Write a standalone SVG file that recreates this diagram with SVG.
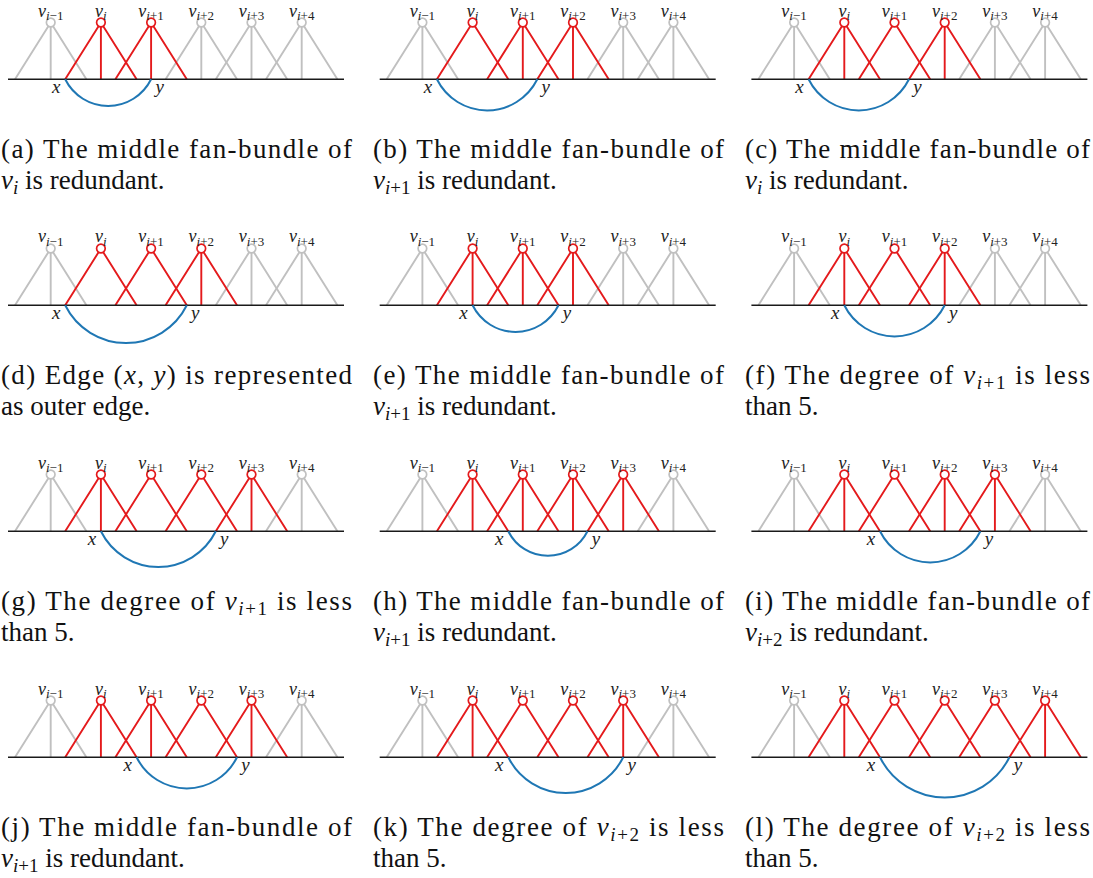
<svg xmlns="http://www.w3.org/2000/svg" width="1093" height="878" viewBox="0 0 1093 878">
<style>
.ln{fill:none;stroke-width:1.9}
.gy{stroke:#c0c0c0}
.rd{stroke:#e41a1c}
.base{stroke:#1a1a1a;stroke-width:1.4}
.arc{fill:none;stroke:#1f77b4;stroke-width:2}
.cg{fill:#fff;stroke:#c0c0c0;stroke-width:1.7}
.cr{fill:#fff;stroke:#e41a1c;stroke-width:1.7}
text{font-family:"Liberation Serif",serif}
.nl{font-size:18px;text-anchor:middle;fill:#222}
.i{font-style:italic}
.s{font-size:13px}
.xy{font-size:19px;font-style:italic;text-anchor:middle;fill:#222}
.cap{font-size:27px;fill:#111}
.cs{font-size:19px}
</style>
<defs>
<path id="f3" d="M-35.7 0L0-56.8L35.7 0M0-56.8V0"/>
<path id="f2" d="M-35.7 0L0-56.8L35.7 0"/>
</defs>

<!-- (a) -->
<g id="panel-a" transform="translate(0 79.3)">
<g id="a-connectors">
<use href="#f3" x="50.7" class="ln gy"/><use href="#f3" x="201.3" class="ln gy"/><use href="#f3" x="251.5" class="ln gy"/><use href="#f3" x="301.7" class="ln gy"/>
<use href="#f3" x="100.9" class="ln rd"/><use href="#f3" x="151.1" class="ln rd"/>
<line class="base" x1="8" y1="0" x2="344" y2="0"/>
<path class="arc" d="M65.2 0A47.95 47.95 0 0 0 151.1 0"/>
</g>
<g id="a-v0" transform="translate(50.7 -56.8)"><circle class="cg" r="4.3"/><text class="nl" y="-6"><tspan class="i">v</tspan><tspan class="s" dy="3.5"><tspan class="i">i</tspan>−1</tspan></text></g>
<g id="a-v1" transform="translate(100.9 -56.8)"><circle class="cr" r="4.3"/><text class="nl" y="-6"><tspan class="i">v</tspan><tspan class="s i" dy="3.5">i</tspan></text></g>
<g id="a-v2" transform="translate(151.1 -56.8)"><circle class="cr" r="4.3"/><text class="nl" y="-6"><tspan class="i">v</tspan><tspan class="s" dy="3.5"><tspan class="i">i</tspan>+1</tspan></text></g>
<g id="a-v3" transform="translate(201.3 -56.8)"><circle class="cg" r="4.3"/><text class="nl" y="-6"><tspan class="i">v</tspan><tspan class="s" dy="3.5"><tspan class="i">i</tspan>+2</tspan></text></g>
<g id="a-v4" transform="translate(251.5 -56.8)"><circle class="cg" r="4.3"/><text class="nl" y="-6"><tspan class="i">v</tspan><tspan class="s" dy="3.5"><tspan class="i">i</tspan>+3</tspan></text></g>
<g id="a-v5" transform="translate(301.7 -56.8)"><circle class="cg" r="4.3"/><text class="nl" y="-6"><tspan class="i">v</tspan><tspan class="s" dy="3.5"><tspan class="i">i</tspan>+4</tspan></text></g>
<text class="xy" x="56.2" y="13.5">x</text><text class="xy" x="159.6" y="13.5">y</text>
</g>

<!-- (b) -->
<g id="panel-b" transform="translate(371.7 79.3)">
<g id="b-connectors">
<use href="#f3" x="50.7" class="ln gy"/><use href="#f3" x="251.5" class="ln gy"/><use href="#f3" x="301.7" class="ln gy"/>
<use href="#f2" x="100.9" class="ln rd"/><use href="#f3" x="151.1" class="ln rd"/><use href="#f3" x="201.3" class="ln rd"/>
<line class="base" x1="8" y1="0" x2="344" y2="0"/>
<path class="arc" d="M65.2 0A56.04 56.04 0 0 0 165.6 0"/>
</g>
<g id="b-v0" transform="translate(50.7 -56.8)"><circle class="cg" r="4.3"/><text class="nl" y="-6"><tspan class="i">v</tspan><tspan class="s" dy="3.5"><tspan class="i">i</tspan>−1</tspan></text></g>
<g id="b-v1" transform="translate(100.9 -56.8)"><circle class="cr" r="4.3"/><text class="nl" y="-6"><tspan class="i">v</tspan><tspan class="s i" dy="3.5">i</tspan></text></g>
<g id="b-v2" transform="translate(151.1 -56.8)"><circle class="cr" r="4.3"/><text class="nl" y="-6"><tspan class="i">v</tspan><tspan class="s" dy="3.5"><tspan class="i">i</tspan>+1</tspan></text></g>
<g id="b-v3" transform="translate(201.3 -56.8)"><circle class="cr" r="4.3"/><text class="nl" y="-6"><tspan class="i">v</tspan><tspan class="s" dy="3.5"><tspan class="i">i</tspan>+2</tspan></text></g>
<g id="b-v4" transform="translate(251.5 -56.8)"><circle class="cg" r="4.3"/><text class="nl" y="-6"><tspan class="i">v</tspan><tspan class="s" dy="3.5"><tspan class="i">i</tspan>+3</tspan></text></g>
<g id="b-v5" transform="translate(301.7 -56.8)"><circle class="cg" r="4.3"/><text class="nl" y="-6"><tspan class="i">v</tspan><tspan class="s" dy="3.5"><tspan class="i">i</tspan>+4</tspan></text></g>
<text class="xy" x="56.2" y="13.5">x</text><text class="xy" x="174.1" y="13.5">y</text>
</g>

<!-- (c) -->
<g id="panel-c" transform="translate(743.4 79.3)">
<g id="c-connectors">
<use href="#f3" x="50.7" class="ln gy"/><use href="#f3" x="251.5" class="ln gy"/><use href="#f3" x="301.7" class="ln gy"/>
<use href="#f3" x="100.9" class="ln rd"/><use href="#f2" x="151.1" class="ln rd"/><use href="#f3" x="201.3" class="ln rd"/>
<line class="base" x1="8" y1="0" x2="344" y2="0"/>
<path class="arc" d="M65.2 0A56.04 56.04 0 0 0 165.6 0"/>
</g>
<g id="c-v0" transform="translate(50.7 -56.8)"><circle class="cg" r="4.3"/><text class="nl" y="-6"><tspan class="i">v</tspan><tspan class="s" dy="3.5"><tspan class="i">i</tspan>−1</tspan></text></g>
<g id="c-v1" transform="translate(100.9 -56.8)"><circle class="cr" r="4.3"/><text class="nl" y="-6"><tspan class="i">v</tspan><tspan class="s i" dy="3.5">i</tspan></text></g>
<g id="c-v2" transform="translate(151.1 -56.8)"><circle class="cr" r="4.3"/><text class="nl" y="-6"><tspan class="i">v</tspan><tspan class="s" dy="3.5"><tspan class="i">i</tspan>+1</tspan></text></g>
<g id="c-v3" transform="translate(201.3 -56.8)"><circle class="cr" r="4.3"/><text class="nl" y="-6"><tspan class="i">v</tspan><tspan class="s" dy="3.5"><tspan class="i">i</tspan>+2</tspan></text></g>
<g id="c-v4" transform="translate(251.5 -56.8)"><circle class="cg" r="4.3"/><text class="nl" y="-6"><tspan class="i">v</tspan><tspan class="s" dy="3.5"><tspan class="i">i</tspan>+3</tspan></text></g>
<g id="c-v5" transform="translate(301.7 -56.8)"><circle class="cg" r="4.3"/><text class="nl" y="-6"><tspan class="i">v</tspan><tspan class="s" dy="3.5"><tspan class="i">i</tspan>+4</tspan></text></g>
<text class="xy" x="56.2" y="13.5">x</text><text class="xy" x="174.1" y="13.5">y</text>
</g>

<!-- (d) -->
<g id="panel-d" transform="translate(0 305.3)">
<g id="d-connectors">
<use href="#f3" x="50.7" class="ln gy"/><use href="#f3" x="251.5" class="ln gy"/><use href="#f3" x="301.7" class="ln gy"/>
<use href="#f2" x="100.9" class="ln rd"/><use href="#f2" x="151.1" class="ln rd"/><use href="#f3" x="201.3" class="ln rd"/>
<line class="base" x1="8" y1="0" x2="344" y2="0"/>
<path class="arc" d="M65.2 0A67.88 67.88 0 0 0 186.8 0"/>
</g>
<g id="d-v0" transform="translate(50.7 -56.8)"><circle class="cg" r="4.3"/><text class="nl" y="-6"><tspan class="i">v</tspan><tspan class="s" dy="3.5"><tspan class="i">i</tspan>−1</tspan></text></g>
<g id="d-v1" transform="translate(100.9 -56.8)"><circle class="cr" r="4.3"/><text class="nl" y="-6"><tspan class="i">v</tspan><tspan class="s i" dy="3.5">i</tspan></text></g>
<g id="d-v2" transform="translate(151.1 -56.8)"><circle class="cr" r="4.3"/><text class="nl" y="-6"><tspan class="i">v</tspan><tspan class="s" dy="3.5"><tspan class="i">i</tspan>+1</tspan></text></g>
<g id="d-v3" transform="translate(201.3 -56.8)"><circle class="cr" r="4.3"/><text class="nl" y="-6"><tspan class="i">v</tspan><tspan class="s" dy="3.5"><tspan class="i">i</tspan>+2</tspan></text></g>
<g id="d-v4" transform="translate(251.5 -56.8)"><circle class="cg" r="4.3"/><text class="nl" y="-6"><tspan class="i">v</tspan><tspan class="s" dy="3.5"><tspan class="i">i</tspan>+3</tspan></text></g>
<g id="d-v5" transform="translate(301.7 -56.8)"><circle class="cg" r="4.3"/><text class="nl" y="-6"><tspan class="i">v</tspan><tspan class="s" dy="3.5"><tspan class="i">i</tspan>+4</tspan></text></g>
<text class="xy" x="56.2" y="13.5">x</text><text class="xy" x="195.3" y="13.5">y</text>
</g>

<!-- (e) -->
<g id="panel-e" transform="translate(371.7 305.3)">
<g id="e-connectors">
<use href="#f3" x="50.7" class="ln gy"/><use href="#f3" x="251.5" class="ln gy"/><use href="#f3" x="301.7" class="ln gy"/>
<use href="#f3" x="100.9" class="ln rd"/><use href="#f3" x="151.1" class="ln rd"/><use href="#f3" x="201.3" class="ln rd"/>
<line class="base" x1="8" y1="0" x2="344" y2="0"/>
<path class="arc" d="M100.9 0A47.95 47.95 0 0 0 186.8 0"/>
</g>
<g id="e-v0" transform="translate(50.7 -56.8)"><circle class="cg" r="4.3"/><text class="nl" y="-6"><tspan class="i">v</tspan><tspan class="s" dy="3.5"><tspan class="i">i</tspan>−1</tspan></text></g>
<g id="e-v1" transform="translate(100.9 -56.8)"><circle class="cr" r="4.3"/><text class="nl" y="-6"><tspan class="i">v</tspan><tspan class="s i" dy="3.5">i</tspan></text></g>
<g id="e-v2" transform="translate(151.1 -56.8)"><circle class="cr" r="4.3"/><text class="nl" y="-6"><tspan class="i">v</tspan><tspan class="s" dy="3.5"><tspan class="i">i</tspan>+1</tspan></text></g>
<g id="e-v3" transform="translate(201.3 -56.8)"><circle class="cr" r="4.3"/><text class="nl" y="-6"><tspan class="i">v</tspan><tspan class="s" dy="3.5"><tspan class="i">i</tspan>+2</tspan></text></g>
<g id="e-v4" transform="translate(251.5 -56.8)"><circle class="cg" r="4.3"/><text class="nl" y="-6"><tspan class="i">v</tspan><tspan class="s" dy="3.5"><tspan class="i">i</tspan>+3</tspan></text></g>
<g id="e-v5" transform="translate(301.7 -56.8)"><circle class="cg" r="4.3"/><text class="nl" y="-6"><tspan class="i">v</tspan><tspan class="s" dy="3.5"><tspan class="i">i</tspan>+4</tspan></text></g>
<text class="xy" x="91.9" y="13.5">x</text><text class="xy" x="195.3" y="13.5">y</text>
</g>

<!-- (f) -->
<g id="panel-f" transform="translate(743.4 305.3)">
<g id="f-connectors">
<use href="#f3" x="50.7" class="ln gy"/><use href="#f3" x="251.5" class="ln gy"/><use href="#f3" x="301.7" class="ln gy"/>
<use href="#f3" x="100.9" class="ln rd"/><use href="#f2" x="151.1" class="ln rd"/><use href="#f3" x="201.3" class="ln rd"/>
<line class="base" x1="8" y1="0" x2="344" y2="0"/>
<path class="arc" d="M100.9 0A56.04 56.04 0 0 0 201.3 0"/>
</g>
<g id="f-v0" transform="translate(50.7 -56.8)"><circle class="cg" r="4.3"/><text class="nl" y="-6"><tspan class="i">v</tspan><tspan class="s" dy="3.5"><tspan class="i">i</tspan>−1</tspan></text></g>
<g id="f-v1" transform="translate(100.9 -56.8)"><circle class="cr" r="4.3"/><text class="nl" y="-6"><tspan class="i">v</tspan><tspan class="s i" dy="3.5">i</tspan></text></g>
<g id="f-v2" transform="translate(151.1 -56.8)"><circle class="cr" r="4.3"/><text class="nl" y="-6"><tspan class="i">v</tspan><tspan class="s" dy="3.5"><tspan class="i">i</tspan>+1</tspan></text></g>
<g id="f-v3" transform="translate(201.3 -56.8)"><circle class="cr" r="4.3"/><text class="nl" y="-6"><tspan class="i">v</tspan><tspan class="s" dy="3.5"><tspan class="i">i</tspan>+2</tspan></text></g>
<g id="f-v4" transform="translate(251.5 -56.8)"><circle class="cg" r="4.3"/><text class="nl" y="-6"><tspan class="i">v</tspan><tspan class="s" dy="3.5"><tspan class="i">i</tspan>+3</tspan></text></g>
<g id="f-v5" transform="translate(301.7 -56.8)"><circle class="cg" r="4.3"/><text class="nl" y="-6"><tspan class="i">v</tspan><tspan class="s" dy="3.5"><tspan class="i">i</tspan>+4</tspan></text></g>
<text class="xy" x="91.9" y="13.5">x</text><text class="xy" x="209.8" y="13.5">y</text>
</g>

<!-- (g) -->
<g id="panel-g" transform="translate(0 531.3)">
<g id="g-connectors">
<use href="#f3" x="50.7" class="ln gy"/><use href="#f3" x="301.7" class="ln gy"/>
<use href="#f3" x="100.9" class="ln rd"/><use href="#f2" x="151.1" class="ln rd"/><use href="#f2" x="201.3" class="ln rd"/><use href="#f3" x="251.5" class="ln rd"/>
<line class="base" x1="8" y1="0" x2="344" y2="0"/>
<path class="arc" d="M100.9 0A64.14 64.14 0 0 0 215.8 0"/>
</g>
<g id="g-v0" transform="translate(50.7 -56.8)"><circle class="cg" r="4.3"/><text class="nl" y="-6"><tspan class="i">v</tspan><tspan class="s" dy="3.5"><tspan class="i">i</tspan>−1</tspan></text></g>
<g id="g-v1" transform="translate(100.9 -56.8)"><circle class="cr" r="4.3"/><text class="nl" y="-6"><tspan class="i">v</tspan><tspan class="s i" dy="3.5">i</tspan></text></g>
<g id="g-v2" transform="translate(151.1 -56.8)"><circle class="cr" r="4.3"/><text class="nl" y="-6"><tspan class="i">v</tspan><tspan class="s" dy="3.5"><tspan class="i">i</tspan>+1</tspan></text></g>
<g id="g-v3" transform="translate(201.3 -56.8)"><circle class="cr" r="4.3"/><text class="nl" y="-6"><tspan class="i">v</tspan><tspan class="s" dy="3.5"><tspan class="i">i</tspan>+2</tspan></text></g>
<g id="g-v4" transform="translate(251.5 -56.8)"><circle class="cr" r="4.3"/><text class="nl" y="-6"><tspan class="i">v</tspan><tspan class="s" dy="3.5"><tspan class="i">i</tspan>+3</tspan></text></g>
<g id="g-v5" transform="translate(301.7 -56.8)"><circle class="cg" r="4.3"/><text class="nl" y="-6"><tspan class="i">v</tspan><tspan class="s" dy="3.5"><tspan class="i">i</tspan>+4</tspan></text></g>
<text class="xy" x="91.9" y="13.5">x</text><text class="xy" x="224.3" y="13.5">y</text>
</g>

<!-- (h) -->
<g id="panel-h" transform="translate(371.7 531.3)">
<g id="h-connectors">
<use href="#f3" x="50.7" class="ln gy"/><use href="#f3" x="301.7" class="ln gy"/>
<use href="#f3" x="100.9" class="ln rd"/><use href="#f3" x="151.1" class="ln rd"/><use href="#f3" x="201.3" class="ln rd"/><use href="#f3" x="251.5" class="ln rd"/>
<line class="base" x1="8" y1="0" x2="344" y2="0"/>
<path class="arc" d="M136.6 0A44.21 44.21 0 0 0 215.8 0"/>
</g>
<g id="h-v0" transform="translate(50.7 -56.8)"><circle class="cg" r="4.3"/><text class="nl" y="-6"><tspan class="i">v</tspan><tspan class="s" dy="3.5"><tspan class="i">i</tspan>−1</tspan></text></g>
<g id="h-v1" transform="translate(100.9 -56.8)"><circle class="cr" r="4.3"/><text class="nl" y="-6"><tspan class="i">v</tspan><tspan class="s i" dy="3.5">i</tspan></text></g>
<g id="h-v2" transform="translate(151.1 -56.8)"><circle class="cr" r="4.3"/><text class="nl" y="-6"><tspan class="i">v</tspan><tspan class="s" dy="3.5"><tspan class="i">i</tspan>+1</tspan></text></g>
<g id="h-v3" transform="translate(201.3 -56.8)"><circle class="cr" r="4.3"/><text class="nl" y="-6"><tspan class="i">v</tspan><tspan class="s" dy="3.5"><tspan class="i">i</tspan>+2</tspan></text></g>
<g id="h-v4" transform="translate(251.5 -56.8)"><circle class="cr" r="4.3"/><text class="nl" y="-6"><tspan class="i">v</tspan><tspan class="s" dy="3.5"><tspan class="i">i</tspan>+3</tspan></text></g>
<g id="h-v5" transform="translate(301.7 -56.8)"><circle class="cg" r="4.3"/><text class="nl" y="-6"><tspan class="i">v</tspan><tspan class="s" dy="3.5"><tspan class="i">i</tspan>+4</tspan></text></g>
<text class="xy" x="127.6" y="13.5">x</text><text class="xy" x="224.3" y="13.5">y</text>
</g>

<!-- (i) -->
<g id="panel-i" transform="translate(743.4 531.3)">
<g id="i-connectors">
<use href="#f3" x="50.7" class="ln gy"/><use href="#f3" x="301.7" class="ln gy"/>
<use href="#f3" x="100.9" class="ln rd"/><use href="#f2" x="151.1" class="ln rd"/><use href="#f3" x="201.3" class="ln rd"/><use href="#f3" x="251.5" class="ln rd"/>
<line class="base" x1="8" y1="0" x2="344" y2="0"/>
<path class="arc" d="M136.6 0A56.04 56.04 0 0 0 237 0"/>
</g>
<g id="i-v0" transform="translate(50.7 -56.8)"><circle class="cg" r="4.3"/><text class="nl" y="-6"><tspan class="i">v</tspan><tspan class="s" dy="3.5"><tspan class="i">i</tspan>−1</tspan></text></g>
<g id="i-v1" transform="translate(100.9 -56.8)"><circle class="cr" r="4.3"/><text class="nl" y="-6"><tspan class="i">v</tspan><tspan class="s i" dy="3.5">i</tspan></text></g>
<g id="i-v2" transform="translate(151.1 -56.8)"><circle class="cr" r="4.3"/><text class="nl" y="-6"><tspan class="i">v</tspan><tspan class="s" dy="3.5"><tspan class="i">i</tspan>+1</tspan></text></g>
<g id="i-v3" transform="translate(201.3 -56.8)"><circle class="cr" r="4.3"/><text class="nl" y="-6"><tspan class="i">v</tspan><tspan class="s" dy="3.5"><tspan class="i">i</tspan>+2</tspan></text></g>
<g id="i-v4" transform="translate(251.5 -56.8)"><circle class="cr" r="4.3"/><text class="nl" y="-6"><tspan class="i">v</tspan><tspan class="s" dy="3.5"><tspan class="i">i</tspan>+3</tspan></text></g>
<g id="i-v5" transform="translate(301.7 -56.8)"><circle class="cg" r="4.3"/><text class="nl" y="-6"><tspan class="i">v</tspan><tspan class="s" dy="3.5"><tspan class="i">i</tspan>+4</tspan></text></g>
<text class="xy" x="127.6" y="13.5">x</text><text class="xy" x="245.5" y="13.5">y</text>
</g>

<!-- (j) -->
<g id="panel-j" transform="translate(0 757.3)">
<g id="j-connectors">
<use href="#f3" x="50.7" class="ln gy"/><use href="#f3" x="301.7" class="ln gy"/>
<use href="#f3" x="100.9" class="ln rd"/><use href="#f3" x="151.1" class="ln rd"/><use href="#f2" x="201.3" class="ln rd"/><use href="#f3" x="251.5" class="ln rd"/>
<line class="base" x1="8" y1="0" x2="344" y2="0"/>
<path class="arc" d="M136.6 0A56.04 56.04 0 0 0 237 0"/>
</g>
<g id="j-v0" transform="translate(50.7 -56.8)"><circle class="cg" r="4.3"/><text class="nl" y="-6"><tspan class="i">v</tspan><tspan class="s" dy="3.5"><tspan class="i">i</tspan>−1</tspan></text></g>
<g id="j-v1" transform="translate(100.9 -56.8)"><circle class="cr" r="4.3"/><text class="nl" y="-6"><tspan class="i">v</tspan><tspan class="s i" dy="3.5">i</tspan></text></g>
<g id="j-v2" transform="translate(151.1 -56.8)"><circle class="cr" r="4.3"/><text class="nl" y="-6"><tspan class="i">v</tspan><tspan class="s" dy="3.5"><tspan class="i">i</tspan>+1</tspan></text></g>
<g id="j-v3" transform="translate(201.3 -56.8)"><circle class="cr" r="4.3"/><text class="nl" y="-6"><tspan class="i">v</tspan><tspan class="s" dy="3.5"><tspan class="i">i</tspan>+2</tspan></text></g>
<g id="j-v4" transform="translate(251.5 -56.8)"><circle class="cr" r="4.3"/><text class="nl" y="-6"><tspan class="i">v</tspan><tspan class="s" dy="3.5"><tspan class="i">i</tspan>+3</tspan></text></g>
<g id="j-v5" transform="translate(301.7 -56.8)"><circle class="cg" r="4.3"/><text class="nl" y="-6"><tspan class="i">v</tspan><tspan class="s" dy="3.5"><tspan class="i">i</tspan>+4</tspan></text></g>
<text class="xy" x="127.6" y="13.5">x</text><text class="xy" x="245.5" y="13.5">y</text>
</g>

<!-- (k) -->
<g id="panel-k" transform="translate(371.7 757.3)">
<g id="k-connectors">
<use href="#f3" x="50.7" class="ln gy"/><use href="#f3" x="301.7" class="ln gy"/>
<use href="#f3" x="100.9" class="ln rd"/><use href="#f2" x="151.1" class="ln rd"/><use href="#f2" x="201.3" class="ln rd"/><use href="#f3" x="251.5" class="ln rd"/>
<line class="base" x1="8" y1="0" x2="344" y2="0"/>
<path class="arc" d="M136.6 0A64.14 64.14 0 0 0 251.5 0"/>
</g>
<g id="k-v0" transform="translate(50.7 -56.8)"><circle class="cg" r="4.3"/><text class="nl" y="-6"><tspan class="i">v</tspan><tspan class="s" dy="3.5"><tspan class="i">i</tspan>−1</tspan></text></g>
<g id="k-v1" transform="translate(100.9 -56.8)"><circle class="cr" r="4.3"/><text class="nl" y="-6"><tspan class="i">v</tspan><tspan class="s i" dy="3.5">i</tspan></text></g>
<g id="k-v2" transform="translate(151.1 -56.8)"><circle class="cr" r="4.3"/><text class="nl" y="-6"><tspan class="i">v</tspan><tspan class="s" dy="3.5"><tspan class="i">i</tspan>+1</tspan></text></g>
<g id="k-v3" transform="translate(201.3 -56.8)"><circle class="cr" r="4.3"/><text class="nl" y="-6"><tspan class="i">v</tspan><tspan class="s" dy="3.5"><tspan class="i">i</tspan>+2</tspan></text></g>
<g id="k-v4" transform="translate(251.5 -56.8)"><circle class="cr" r="4.3"/><text class="nl" y="-6"><tspan class="i">v</tspan><tspan class="s" dy="3.5"><tspan class="i">i</tspan>+3</tspan></text></g>
<g id="k-v5" transform="translate(301.7 -56.8)"><circle class="cg" r="4.3"/><text class="nl" y="-6"><tspan class="i">v</tspan><tspan class="s" dy="3.5"><tspan class="i">i</tspan>+4</tspan></text></g>
<text class="xy" x="127.6" y="13.5">x</text><text class="xy" x="260" y="13.5">y</text>
</g>

<!-- (l) -->
<g id="panel-l" transform="translate(743.4 757.3)">
<g id="l-connectors">
<use href="#f3" x="50.7" class="ln gy"/>
<use href="#f3" x="100.9" class="ln rd"/><use href="#f2" x="151.1" class="ln rd"/><use href="#f2" x="201.3" class="ln rd"/><use href="#f2" x="251.5" class="ln rd"/><use href="#f3" x="301.7" class="ln rd"/>
<line class="base" x1="8" y1="0" x2="344" y2="0"/>
<path class="arc" d="M136.6 0A72.23 72.23 0 0 0 266 0"/>
</g>
<g id="l-v0" transform="translate(50.7 -56.8)"><circle class="cg" r="4.3"/><text class="nl" y="-6"><tspan class="i">v</tspan><tspan class="s" dy="3.5"><tspan class="i">i</tspan>−1</tspan></text></g>
<g id="l-v1" transform="translate(100.9 -56.8)"><circle class="cr" r="4.3"/><text class="nl" y="-6"><tspan class="i">v</tspan><tspan class="s i" dy="3.5">i</tspan></text></g>
<g id="l-v2" transform="translate(151.1 -56.8)"><circle class="cr" r="4.3"/><text class="nl" y="-6"><tspan class="i">v</tspan><tspan class="s" dy="3.5"><tspan class="i">i</tspan>+1</tspan></text></g>
<g id="l-v3" transform="translate(201.3 -56.8)"><circle class="cr" r="4.3"/><text class="nl" y="-6"><tspan class="i">v</tspan><tspan class="s" dy="3.5"><tspan class="i">i</tspan>+2</tspan></text></g>
<g id="l-v4" transform="translate(251.5 -56.8)"><circle class="cr" r="4.3"/><text class="nl" y="-6"><tspan class="i">v</tspan><tspan class="s" dy="3.5"><tspan class="i">i</tspan>+3</tspan></text></g>
<g id="l-v5" transform="translate(301.7 -56.8)"><circle class="cr" r="4.3"/><text class="nl" y="-6"><tspan class="i">v</tspan><tspan class="s" dy="3.5"><tspan class="i">i</tspan>+4</tspan></text></g>
<text class="xy" x="127.6" y="13.5">x</text><text class="xy" x="274.5" y="13.5">y</text>
</g>

<!-- captions -->
<g id="captions">
<text class="cap" x="1" y="158" textLength="351" lengthAdjust="spacing">(a) The middle fan-bundle of</text>
<text class="cap" x="1" y="189"><tspan class="i">v</tspan><tspan class="cs i" dy="5">i</tspan><tspan dy="-5"> is redundant.</tspan></text>
<text class="cap" x="373" y="158" textLength="351" lengthAdjust="spacing">(b) The middle fan-bundle of</text>
<text class="cap" x="373" y="189"><tspan class="i">v</tspan><tspan class="cs" dy="5"><tspan class="i">i</tspan>+1</tspan><tspan dy="-5"> is redundant.</tspan></text>
<text class="cap" x="745" y="158" textLength="345" lengthAdjust="spacing">(c) The middle fan-bundle of</text>
<text class="cap" x="745" y="189"><tspan class="i">v</tspan><tspan class="cs i" dy="5">i</tspan><tspan dy="-5"> is redundant.</tspan></text>

<text class="cap" x="1" y="384" textLength="351" lengthAdjust="spacing">(d) Edge (<tspan class="i">x</tspan>, <tspan class="i">y</tspan>) is represented</text>
<text class="cap" x="1" y="415">as outer edge.</text>
<text class="cap" x="373" y="384" textLength="351" lengthAdjust="spacing">(e) The middle fan-bundle of</text>
<text class="cap" x="373" y="415"><tspan class="i">v</tspan><tspan class="cs" dy="5"><tspan class="i">i</tspan>+1</tspan><tspan dy="-5"> is redundant.</tspan></text>
<text class="cap" x="745" y="384" textLength="345" lengthAdjust="spacing">(f) The degree of <tspan class="i">v</tspan><tspan class="cs" dy="5"><tspan class="i">i</tspan>+1</tspan><tspan dy="-5"> is less</tspan></text>
<text class="cap" x="745" y="415">than 5.</text>

<text class="cap" x="1" y="610" textLength="351" lengthAdjust="spacing">(g) The degree of <tspan class="i">v</tspan><tspan class="cs" dy="5"><tspan class="i">i</tspan>+1</tspan><tspan dy="-5"> is less</tspan></text>
<text class="cap" x="1" y="641">than 5.</text>
<text class="cap" x="373" y="610" textLength="351" lengthAdjust="spacing">(h) The middle fan-bundle of</text>
<text class="cap" x="373" y="641"><tspan class="i">v</tspan><tspan class="cs" dy="5"><tspan class="i">i</tspan>+1</tspan><tspan dy="-5"> is redundant.</tspan></text>
<text class="cap" x="745" y="610" textLength="345" lengthAdjust="spacing">(i) The middle fan-bundle of</text>
<text class="cap" x="745" y="641"><tspan class="i">v</tspan><tspan class="cs" dy="5"><tspan class="i">i</tspan>+2</tspan><tspan dy="-5"> is redundant.</tspan></text>

<text class="cap" x="1" y="836" textLength="351" lengthAdjust="spacing">(j) The middle fan-bundle of</text>
<text class="cap" x="1" y="867"><tspan class="i">v</tspan><tspan class="cs" dy="5"><tspan class="i">i</tspan>+1</tspan><tspan dy="-5"> is redundant.</tspan></text>
<text class="cap" x="373" y="836" textLength="351" lengthAdjust="spacing">(k) The degree of <tspan class="i">v</tspan><tspan class="cs" dy="5"><tspan class="i">i</tspan>+2</tspan><tspan dy="-5"> is less</tspan></text>
<text class="cap" x="373" y="867">than 5.</text>
<text class="cap" x="745" y="836" textLength="345" lengthAdjust="spacing">(l) The degree of <tspan class="i">v</tspan><tspan class="cs" dy="5"><tspan class="i">i</tspan>+2</tspan><tspan dy="-5"> is less</tspan></text>
<text class="cap" x="745" y="867">than 5.</text>
</g>
</svg>
